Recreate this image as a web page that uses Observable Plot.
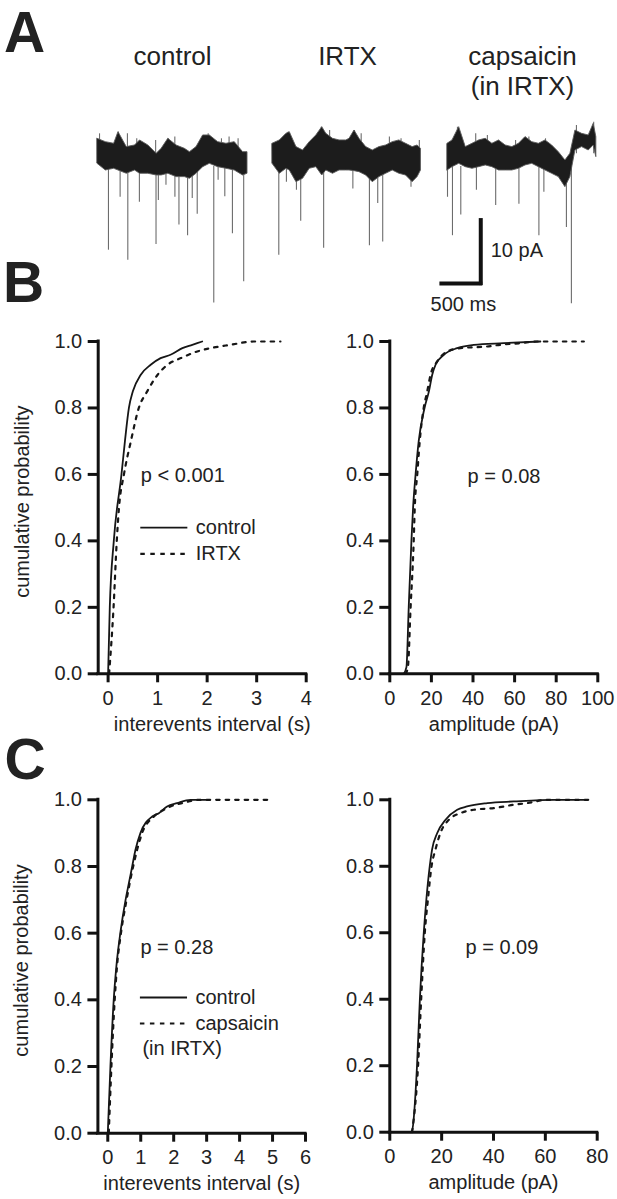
<!DOCTYPE html>
<html>
<head>
<meta charset="utf-8">
<script src="https://cdn.jsdelivr.net/npm/d3@7"></script>
<script src="https://cdn.jsdelivr.net/npm/@observablehq/plot@0.6"></script>
<style>
html, body { margin: 0; padding: 0; background: #fff; }
#fig { position: relative; width: 617px; height: 1199px; overflow: hidden;
  font-family: "Liberation Sans", Arial, sans-serif; color: #222; }
.panel { position: absolute; }
.letter { position: absolute; font-weight: bold; font-size: 57px; line-height: 0.75; color: #222; }
</style>
</head>
<body>
<div id="fig"></div>
<script>
// ---------------- Panel A : example traces (time in ms, current in pA) ----------------
const traceKeys = ["control", "IRTX", "capsaicin"];
const traceTitles = ["control", "IRTX", "capsaicin\n(in IRTX)"];

// baseline noise envelope
const controlTime = [0, 107, 214, 270, 376, 483, 547, 654, 761, 825, 911, 1017, 1124, 1189, 1274, 1359, 1445, 1552, 1659, 1766, 1873, 1930];
const controlHigh = [2.38, 1.85, 1.59, 3.44, 1.06, 1.32, 2.12, 1.32, 0, 0.79, 2.38, 1.32, 0.79, 0.26, 1.06, 2.91, 2.91, 1.85, 1.59, 1.85, 0.26, 0.26];
const controlLow = [-1.59, -2.65, -2.38, -2.65, -3.17, -2.65, -3.17, -3.17, -3.44, -3.44, -3.17, -3.70, -3.70, -3.97, -3.17, -2.12, -1.59, -2.12, -2.38, -2.65, -3.44, -3.17];

const irtxTime = [0, 94, 179, 222, 308, 393, 479, 564, 640, 692, 778, 863, 949, 991, 1055, 1119, 1205, 1290, 1376, 1462, 1547, 1632, 1718, 1803, 1867, 1910];
const irtxHigh = [1.59, 2.12, 3.17, 3.44, 1.06, 0.53, 1.85, 2.91, 4.23, 3.17, 2.38, 2.12, 2.12, 2.38, 3.70, 2.38, 1.06, 0.53, 1.06, 1.32, 1.85, 2.12, 1.59, 1.06, 1.32, 0.79];
const irtxLow = [-1.59, -3.17, -2.38, -2.65, -4.5, -3.97, -2.38, -2.12, -3.44, -2.65, -3.17, -2.65, -2.65, -2.65, -2.75, -2.91, -3.44, -4.5, -3.70, -3.17, -2.65, -3.17, -3.44, -4.5, -3.70, -2.65];

const capsTime = [0, 64, 150, 235, 321, 406, 492, 577, 663, 748, 834, 919, 1004, 1090, 1176, 1261, 1346, 1432, 1517, 1581, 1646, 1731, 1817, 1881, 1915];
const capsHigh = [1.59, 2.12, 4.23, 1.06, 1.59, 2.12, 2.38, 1.59, 2.12, 1.32, 1.06, 1.59, 2.65, 1.85, 1.59, 2.12, 1.32, 0.26, -1.06, 0, 3.70, 3.17, 2.91, 4.76, 2.65];
const capsLow = [-2.65, -2.12, -1.59, -2.12, -2.38, -2.12, -1.85, -2.12, -2.65, -2.65, -2.65, -2.38, -1.85, -1.59, -2.12, -2.65, -3.17, -3.70, -5.29, -3.70, 0.53, 1.06, 0.53, 1.32, -0.53];

// small upward noise peaks
const controlPeakTime = [26, 270, 385, 505, 748, 909, 995, 1360, 1424, 1595, 1693, 1809];
const controlPeakHigh = [3.17, 3.44, 3.17, 2.38, 2.12, 2.38, 2.65, 2.91, 3.17, 2.38, 2.65, 2.38];
const irtxPeakTime = [200, 628, 735, 1034, 1055, 1141, 1504, 1654, 1889];
const irtxPeakHigh = [3.44, 4.23, 3.70, 3.17, 3.70, 3.17, 2.65, 2.38, 2.12];
const capsPeakTime = [128, 363, 513, 876, 1047, 1261, 1659, 1881];
const capsPeakHigh = [4.23, 3.17, 2.91, 2.12, 2.65, 2.38, 4.5, 5.0];

// spontaneous synaptic events (downward deflections)
const controlEventTime = [141, 291, 390, 539, 753, 783, 881, 996, 1048, 1159, 1219, 1283, 1496, 1552, 1638, 1736, 1881];
const controlEventPeak = [-15.3, -6.9, -16.9, -7.7, -14.4, -7.4, -5.0, -6.9, -11.3, -13.0, -7.1, -9.6, -23.7, -4.2, -6.8, -12.7, -20.3];
const irtxEventTime = [81, 179, 308, 363, 658, 1034, 1247, 1354, 1418, 1782];
const irtxEventPeak = [-16.1, -4.5, -5.8, -10.7, -15.0, -5.6, -14.6, -7.9, -14.0, -5.3];
const capsEventTime = [0, 64, 171, 372, 620, 919, 1176, 1240, 1530, 1594];
const capsEventPeak = [-6.9, -13.0, -9.7, -5.8, -8.2, -8.0, -13.0, -6.1, -11.7, -23.8];

// scale bar: 10 pA, 500 ms
const scaleBarPA = 10;
const scaleBarMS = 500;

// ---------------- Panels B and C : cumulative distributions ----------------
const yTicks = [0, 0.2, 0.4, 0.6, 0.8, 1.0];

// B, interevent interval (s)
const bIntControlX = [0, 0.034, 0.115, 0.27, 0.34, 0.42, 0.5, 0.66, 0.86, 1.06, 1.26, 1.5, 1.7, 1.9];
const bIntControlP = [0, 0.2, 0.4, 0.6, 0.7, 0.8, 0.85, 0.9, 0.93, 0.95, 0.96, 0.98, 0.99, 1.0];
const bIntIrtxX = [0.02, 0.11, 0.175, 0.22, 0.32, 0.46, 0.62, 0.79, 1.0, 1.2, 1.47, 1.8, 2.07, 2.47, 2.94, 3.48];
const bIntIrtxP = [0, 0.2, 0.4, 0.5, 0.6, 0.7, 0.8, 0.85, 0.9, 0.93, 0.95, 0.97, 0.98, 0.99, 1.0, 1.0];
// B, amplitude (pA)
const bAmpControlX = [6.7, 8.0, 9.1, 10.4, 11.2, 12.4, 13.9, 16.7, 18.8, 20.4, 22, 26, 32.4, 40.4, 54.7, 72.4];
const bAmpControlP = [0, 0.02, 0.2, 0.4, 0.5, 0.6, 0.7, 0.8, 0.85, 0.9, 0.93, 0.96, 0.98, 0.99, 0.995, 1.0];
const bAmpIrtxX = [7.6, 8.7, 10, 11.5, 12, 13.2, 14.4, 16.3, 18, 19.6, 22.8, 27.6, 34, 46.8, 53, 62.8, 70.9, 93.3];
const bAmpIrtxP = [0, 0.02, 0.2, 0.4, 0.5, 0.6, 0.7, 0.8, 0.85, 0.9, 0.94, 0.97, 0.98, 0.985, 0.99, 0.995, 1.0, 1.0];
// C, interevent interval (s)
const cIntControlX = [0, 0.08, 0.18, 0.26, 0.38, 0.54, 0.64, 0.74, 0.84, 0.99, 1.35, 1.55, 1.8, 2.1, 2.51, 3.1];
const cIntControlP = [0, 0.2, 0.4, 0.5, 0.6, 0.7, 0.75, 0.8, 0.85, 0.9, 0.95, 0.96, 0.98, 0.99, 1.0, 1.0];
const cIntCapsX = [0.03, 0.11, 0.21, 0.28, 0.4, 0.57, 0.77, 0.89, 1.04, 1.4, 1.7, 1.9, 2.26, 2.81, 4.84];
const cIntCapsP = [0, 0.2, 0.4, 0.5, 0.6, 0.7, 0.8, 0.85, 0.9, 0.95, 0.97, 0.98, 0.99, 1.0, 1.0];
// C, amplitude (pA)
const cAmpControlX = [8.0, 8.6, 10.5, 11.6, 13.1, 14.1, 15.4, 16.3, 18.3, 21.5, 26, 29.8, 37.6, 47.8, 63.3, 75];
const cAmpControlP = [0, 0.005, 0.2, 0.4, 0.6, 0.7, 0.8, 0.85, 0.9, 0.94, 0.97, 0.98, 0.99, 0.995, 1.0, 1.0];
const cAmpCapsX = [8.6, 10.9, 12.1, 13.5, 14.7, 16.1, 17.6, 19.5, 22.8, 27.3, 32.4, 40.1, 47.8, 53, 60.7, 78.7];
const cAmpCapsP = [0, 0.2, 0.4, 0.6, 0.7, 0.8, 0.85, 0.9, 0.94, 0.96, 0.97, 0.975, 0.985, 0.99, 1.0, 1.0];

// ---------------- build ----------------
const FONT = '"Liberation Sans", Arial, sans-serif';
const INK = "#161616";
const fig = document.getElementById("fig");

function place(node, left, top) {
  const d = document.createElement("div");
  d.className = "panel";
  d.style.left = left + "px";
  d.style.top = top + "px";
  d.appendChild(node);
  fig.appendChild(d);
}
function letter(txt, left, top) {
  const d = document.createElement("div");
  d.className = "letter";
  d.textContent = txt;
  d.style.left = left + "px";
  d.style.top = top + "px";
  fig.appendChild(d);
}

// Panel A tables
const traceSets = [
  [controlTime, controlLow, controlHigh, controlPeakTime, controlPeakHigh, controlEventTime, controlEventPeak],
  [irtxTime, irtxLow, irtxHigh, irtxPeakTime, irtxPeakHigh, irtxEventTime, irtxEventPeak],
  [capsTime, capsLow, capsHigh, capsPeakTime, capsPeakHigh, capsEventTime, capsEventPeak]
];
const envelope = [], peaks = [], events = [];
traceSets.forEach(([T, L, H, PT, PH, ET, EP], k) => {
  const trace = traceKeys[k];
  T.forEach((t, i) => envelope.push({trace, t, lo: L[i], hi: H[i]}));
  PT.forEach((t, i) => peaks.push({trace, t, from: 0, to: PH[i]}));
  ET.forEach((t, i) => events.push({trace, t, from: -2, to: EP[i]}));
});
const titles = traceKeys.map((trace, i) => ({trace, title: traceTitles[i]}));
const barEndT = 428, barLowPA = -20.6;
const scaleBar = [{trace: "capsaicin", t0: barEndT - scaleBarMS, t1: barEndT, a0: barLowPA, a1: barLowPA + scaleBarPA}];
const scaleLabelV = [{trace: "capsaicin", t: 556, a: -15.3, label: scaleBarPA + " pA"}];
const scaleLabelH = [{trace: "capsaicin", t: 204, a: -23.9, label: scaleBarMS + " ms"}];

const panelA = Plot.plot({
  width: 617, height: 320,
  marginLeft: 97.3, marginRight: 19.3, marginTop: 118.65, marginBottom: 2.9,
  style: {fontFamily: FONT, fontSize: "20px", color: "#222", background: "transparent", overflow: "visible"},
  x: {domain: [0, 1930], axis: null},
  y: {domain: [-26, 5.5], axis: null},
  fx: {domain: traceKeys, paddingInner: 0.141, paddingOuter: 0, axis: null},
  marks: [
    Plot.ruleX(events, {fx: "trace", x: "t", y1: "from", y2: "to", stroke: "#6c6c6c", strokeWidth: 1.1}),
    Plot.ruleX(peaks, {fx: "trace", x: "t", y1: "from", y2: "to", stroke: "#6c6c6c", strokeWidth: 1.1}),
    Plot.areaY(envelope, {fx: "trace", x: "t", y1: "lo", y2: "hi", fill: "#1c1c1c", stroke: "#5a5a5a", strokeWidth: 0.9}),
    Plot.text(titles, {fx: "trace", text: "title", frameAnchor: "top", lineAnchor: "top", dy: -75.2, fontSize: 26, lineHeight: 1.14, fill: "#222"}),
    Plot.ruleY(scaleBar, {fx: "trace", y: "a0", x1: "t0", x2: "t1", stroke: "#111", strokeWidth: 4, strokeLinecap: "square"}),
    Plot.ruleX(scaleBar, {fx: "trace", x: "t1", y1: "a0", y2: "a1", stroke: "#111", strokeWidth: 4, strokeLinecap: "square"}),
    Plot.text(scaleLabelV, {fx: "trace", x: "t", y: "a", text: "label", textAnchor: "start", lineAnchor: "middle", fill: "#222"}),
    Plot.text(scaleLabelH, {fx: "trace", x: "t", y: "a", text: "label", textAnchor: "middle", lineAnchor: "middle", fill: "#222"})
  ]
});
place(panelA, 0, 0);

function rows(xs, ps) { return xs.map((x, i) => ({x, p: ps[i]})); }

function cdfPanel(o) {
  const marks = [
    Plot.line(rows(o.dottedX, o.dottedP), {x: "x", y: "p", stroke: INK, strokeWidth: 2.2, strokeDasharray: "3.5,6", curve: "monotone-x"}),
    Plot.line(rows(o.solidX, o.solidP), {x: "x", y: "p", stroke: INK, strokeWidth: 1.8, curve: "monotone-x"}),
    Plot.ruleY([0], {stroke: "#111", strokeWidth: 3, strokeLinecap: "square"}),
    Plot.ruleX([o.xDomain[0]], {stroke: "#111", strokeWidth: 3, strokeLinecap: "square"}),
    Plot.axisX({ticks: o.xTicks, tickFormat: d3.format("d"), tickSize: 9, tickPadding: 8, stroke: "#111", strokeWidth: 3, fill: "#222", label: null}),
    Plot.axisY({ticks: yTicks, tickFormat: d3.format(".1f"), tickSize: 10, tickPadding: 6, stroke: "#111", strokeWidth: 3, fill: "#222", label: null}),
    Plot.text([o.xLabel], {text: d => d, frameAnchor: "bottom", dy: 50.5, dx: o.xLabelDx || 0, textAnchor: "middle", lineAnchor: "middle", fill: "#222"}),
    Plot.text([o.note], {x: "x", y: "y", text: "t", textAnchor: "start", lineAnchor: "middle", fill: "#222"})
  ];
  if (o.yLabel) {
    marks.push(Plot.text([o.yLabel], {text: d => d, frameAnchor: "left", textAnchor: "middle", rotate: -90, dx: -76, dy: -6, lineAnchor: "middle", fill: "#222"}));
  }
  if (o.legend) {
    const L = o.legend;
    marks.push(
      Plot.ruleY([L], {y: "ySolid", x1: "x1", x2: "x2", stroke: INK, strokeWidth: 1.8}),
      Plot.ruleY([L], {y: "yDotted", x1: "x1", x2: "x2", stroke: INK, strokeWidth: 2.2, strokeDasharray: "4.5,5.5"}),
      Plot.text(L.items, {x: "x", y: "y", text: "t", textAnchor: "start", lineAnchor: "middle", fill: "#222"})
    );
  }
  return Plot.plot({
    width: o.width, height: o.height,
    marginLeft: o.ml, marginRight: o.mr, marginTop: o.mt, marginBottom: o.mb,
    style: {fontFamily: FONT, fontSize: "20px", color: "#222", background: "transparent", overflow: "visible"},
    x: {domain: o.xDomain},
    y: {domain: [0, 1]},
    marks
  });
}

place(cdfPanel({
  width: 320, height: 440, ml: 97.7, mr: 14.3, mt: 41, mb: 66.7,
  xDomain: [-0.2, 4], xTicks: [0, 1, 2, 3, 4],
  xLabel: "interevents interval (s)", xLabelDx: 10, yLabel: "cumulative probability",
  solidX: bIntControlX, solidP: bIntControlP, dottedX: bIntIrtxX, dottedP: bIntIrtxP,
  note: {x: 0.66, y: 0.595, t: "p < 0.001"},
  legend: {x1: 0.66, x2: 1.61, ySolid: 0.44, yDotted: 0.361,
    items: [{x: 1.77, y: 0.44, t: "control"}, {x: 1.77, y: 0.361, t: "IRTX"}]}
}), 0, 300);

place(cdfPanel({
  width: 317, height: 440, ml: 89.3, mr: 19.7, mt: 41, mb: 66.7,
  xDomain: [0, 100], xTicks: [0, 20, 40, 60, 80, 100],
  xLabel: "amplitude (pA)",
  solidX: bAmpControlX, solidP: bAmpControlP, dottedX: bAmpIrtxX, dottedP: bAmpIrtxP,
  note: {x: 37.4, y: 0.594, t: "p = 0.08"}
}), 300, 300);

place(cdfPanel({
  width: 320, height: 459, ml: 97.4, mr: 15, mt: 59.3, mb: 66.3,
  xDomain: [-0.3, 6], xTicks: [0, 1, 2, 3, 4, 5, 6],
  xLabel: "interevents interval (s)", yLabel: "cumulative probability",
  solidX: cIntControlX, solidP: cIntControlP, dottedX: cIntCapsX, dottedP: cIntCapsP,
  note: {x: 0.99, y: 0.557, t: "p = 0.28"},
  legend: {x1: 0.99, x2: 2.42, ySolid: 0.407, yDotted: 0.329,
    items: [{x: 2.66, y: 0.407, t: "control"}, {x: 2.66, y: 0.329, t: "capsaicin"}, {x: 1.05, y: 0.254, t: "(in IRTX)"}]}
}), 0, 740);

place(cdfPanel({
  width: 317, height: 459, ml: 89.3, mr: 20.3, mt: 59.3, mb: 67.3,
  xDomain: [0, 80], xTicks: [0, 20, 40, 60, 80],
  xLabel: "amplitude (pA)",
  solidX: cAmpControlX, solidP: cAmpControlP, dottedX: cAmpCapsX, dottedP: cAmpCapsP,
  note: {x: 29.2, y: 0.555, t: "p = 0.09"}
}), 300, 740);

letter("A", 4, 10.5);
letter("B", 3, 260.6);
letter("C", 4.5, 738.2);
</script>
</body>
</html>
